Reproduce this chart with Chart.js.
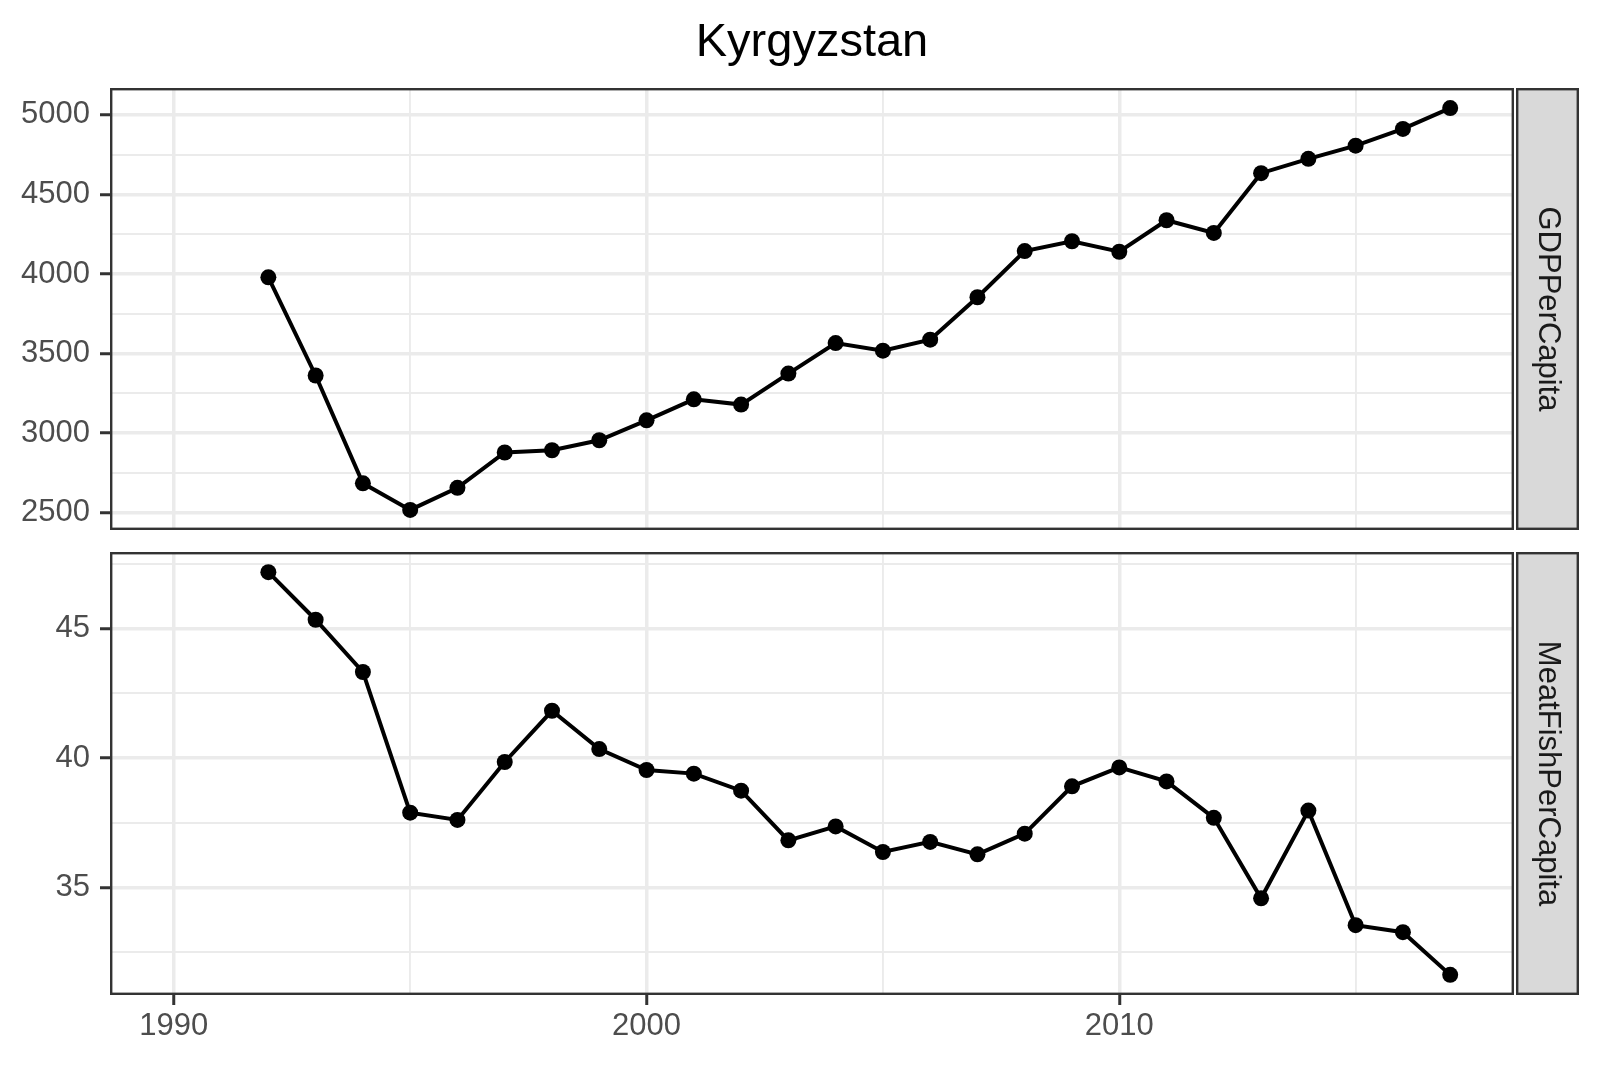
<!DOCTYPE html>
<html>
<head>
<meta charset="utf-8">
<title>Kyrgyzstan</title>
<script src="https://cdn.jsdelivr.net/npm/chart.js@4.4.1/dist/chart.umd.min.js"></script>
<style>
  html, body { margin: 0; padding: 0; background: #ffffff; overflow: hidden; }
  canvas.panel { position: absolute; left: 0; top: 0; }
</style>
</head>
<body>
<canvas id="gdpChart" class="panel" width="1600" height="1067"></canvas>
<canvas id="meatChart" class="panel" width="1600" height="1067"></canvas>
<script>
// data
const years = [1992, 1993, 1994, 1995, 1996, 1997, 1998, 1999, 2000, 2001, 2002, 2003, 2004,
  2005, 2006, 2007, 2008, 2009, 2010, 2011, 2012, 2013, 2014, 2015, 2016, 2017];
const gdpPerCapita = [3979, 3362, 2684, 2517, 2656, 2878, 2892, 2955, 3080, 3212, 3179, 3374, 3566,
  3518, 3587, 3854, 4144, 4206, 4140, 4338, 4258, 4634, 4724, 4807, 4912, 5043];
const meatFishPerCapita = [47.19, 45.35, 43.33, 37.89, 37.61, 39.85, 41.83, 40.35, 39.54, 39.40, 38.74, 36.82, 37.36,
  36.37, 36.76, 36.28, 37.08, 38.91, 39.64, 39.10, 37.69, 34.58, 37.97, 33.54, 33.27, 31.62];

const xMajorTicks = [1990, 2000, 2010];
const xMinorTicks = [1995, 2005, 2015];
const gdpMajorTicks = [2500, 3000, 3500, 4000, 4500, 5000];
const gdpMinorTicks = [2750, 3250, 3750, 4250, 4750];
const meatMajorTicks = [35, 40, 45];
const meatMinorTicks = [32.5, 37.5, 42.5, 47.5];

const xRange = [1988.65, 2018.35];

// panel geometry
const W = 1600, H = 1067;
const PANEL_LEFT = 110, PANEL_RIGHT = 1514;
const STRIP_LEFT = 1516, STRIP_RIGHT = 1579;
const FONT = '"Liberation Sans", Arimo, Arial, sans-serif';

function tickList(major, minor) {
  return major.concat(minor).sort((a, b) => a - b).map(v => ({ value: v }));
}

function expand(values) {
  const lo = Math.min(...values), hi = Math.max(...values);
  const pad = (hi - lo) * 0.05;
  return [lo - pad, hi + pad];
}

function gridFor(major) {
  const isMajor = ctx => ctx.tick && major.includes(ctx.tick.value);
  return {
    color: '#EBEBEB',
    lineWidth: ctx => isMajor(ctx) ? 3.5 : 1.9,
    tickColor: ctx => isMajor(ctx) ? '#333333' : 'rgba(0,0,0,0)',
    tickWidth: 3,
    tickLength: 10,
    drawTicks: true
  };
}

// panel border, facet strip and title
const facetPlugin = {
  id: 'facet',
  afterDraw(chart, args, opts) {
    const { ctx, chartArea } = chart;
    const top = chartArea.top, bottom = chartArea.bottom;
    ctx.save();
    ctx.strokeStyle = '#333333';
    ctx.lineWidth = 2.4;
    ctx.strokeRect(chartArea.left + 1.2, top + 1.2, chartArea.right - chartArea.left - 2.4, bottom - top - 2.4);

    ctx.fillStyle = '#D9D9D9';
    ctx.fillRect(STRIP_LEFT, top, STRIP_RIGHT - STRIP_LEFT, bottom - top);
    ctx.strokeRect(STRIP_LEFT + 1.2, top + 1.2, STRIP_RIGHT - STRIP_LEFT - 2.4, bottom - top - 2.4);

    ctx.translate((STRIP_LEFT + STRIP_RIGHT) / 2, (top + bottom) / 2);
    ctx.rotate(Math.PI / 2);
    ctx.fillStyle = '#1A1A1A';
    ctx.font = '31px ' + FONT;
    ctx.textAlign = 'center';
    ctx.textBaseline = 'middle';
    ctx.fillText(opts.label, 0, 0);
    ctx.restore();

    if (opts.title) {
      ctx.save();
      ctx.fillStyle = '#000000';
      ctx.font = '47px ' + FONT;
      ctx.textAlign = 'center';
      ctx.textBaseline = 'alphabetic';
      ctx.fillText(opts.title, (PANEL_LEFT + PANEL_RIGHT) / 2, 56);
      ctx.restore();
    }
  }
};

function makePanel(id, values, yMajor, yMinor, label, top, bottom, showX, title) {
  const yRange = expand(values);
  const tickFont = { family: FONT, size: 31 };
  return new Chart(document.getElementById(id), {
    type: 'line',
    data: {
      datasets: [{
        data: years.map((yr, i) => ({ x: yr, y: values[i] })),
        borderColor: '#000000',
        borderWidth: 4,
        pointRadius: 8,
        pointBackgroundColor: '#000000',
        pointBorderWidth: 0,
        tension: 0
      }]
    },
    options: {
      responsive: false,
      devicePixelRatio: 1,
      animation: false,
      events: [],
      layout: {
        padding: { left: 0, right: W - PANEL_RIGHT, top: top, bottom: showX ? 0 : H - bottom }
      },
      plugins: {
        legend: { display: false },
        tooltip: { enabled: false },
        facet: { label: label, title: title }
      },
      scales: {
        x: {
          type: 'linear',
          min: xRange[0],
          max: xRange[1],
          afterBuildTicks: axis => { axis.ticks = tickList(xMajorTicks, xMinorTicks); },
          afterFit: axis => { axis.height = showX ? H - bottom : 0; },
          border: { display: false },
          grid: Object.assign(gridFor(xMajorTicks), { drawTicks: showX }),
          ticks: {
            display: showX,
            autoSkip: false,
            maxRotation: 0,
            padding: 3,
            color: '#4D4D4D',
            font: tickFont,
            callback: v => xMajorTicks.includes(v) ? String(v) : ''
          }
        },
        y: {
          type: 'linear',
          min: yRange[0],
          max: yRange[1],
          afterBuildTicks: axis => { axis.ticks = tickList(yMajor, yMinor); },
          afterFit: axis => { axis.width = PANEL_LEFT; },
          border: { display: false },
          grid: gridFor(yMajor),
          ticks: {
            autoSkip: false,
            padding: 10,
            color: '#4D4D4D',
            font: tickFont,
            callback: v => yMajor.includes(v) ? String(v) : ''
          }
        }
      }
    },
    plugins: [facetPlugin]
  });
}

makePanel('gdpChart', gdpPerCapita, gdpMajorTicks, gdpMinorTicks, 'GDPPerCapita', 88, 530, false, 'Kyrgyzstan');
makePanel('meatChart', meatFishPerCapita, meatMajorTicks, meatMinorTicks, 'MeatFishPerCapita', 552, 995, true, null);
</script>
</body>
</html>
